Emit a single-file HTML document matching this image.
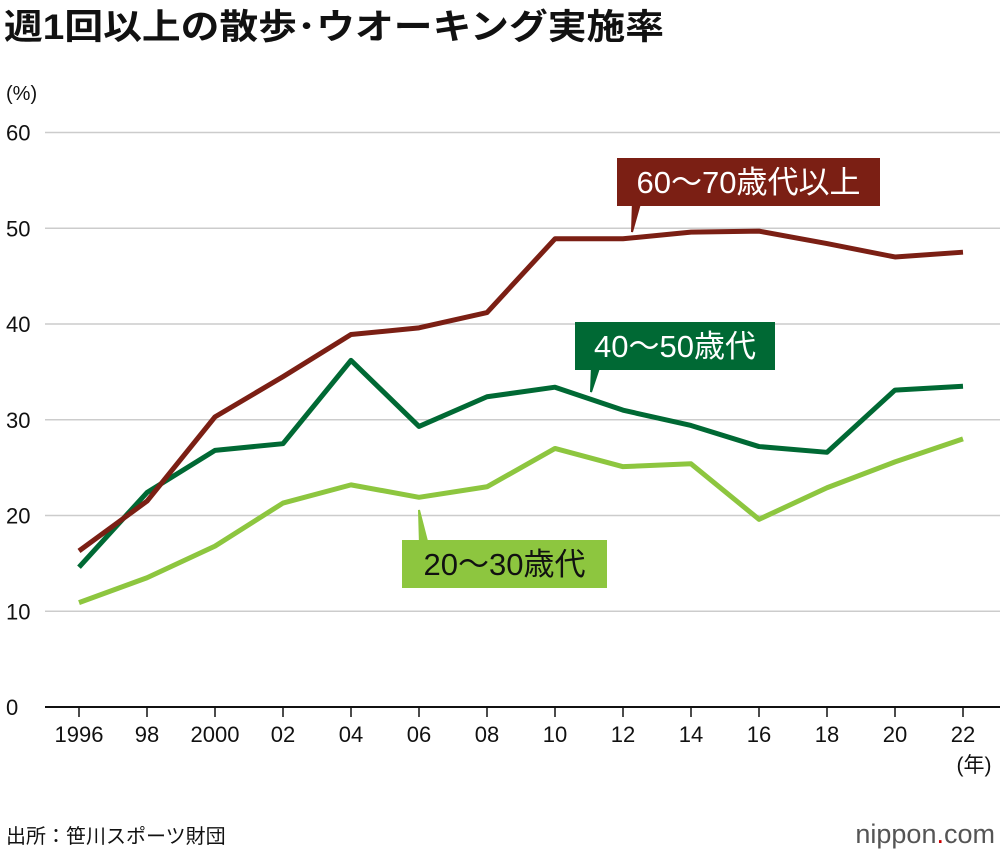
<!DOCTYPE html>
<html><head><meta charset="utf-8"><style>
body{margin:0;background:#fff;width:1000px;height:856px;overflow:hidden;font-family:"Liberation Sans","Noto Sans CJK JP",sans-serif}
</style></head><body>
<svg id="c" width="1000" height="856" style="font-family:'Liberation Sans','Noto Sans CJK JP',sans-serif">
<text x="4" y="39" font-size="35" font-weight="bold" fill="#111" textLength="660" lengthAdjust="spacingAndGlyphs">週1回以上の散歩･ウオーキング実施率</text>
<text x="6" y="100" font-size="20" fill="#111">(%)</text>
<g id="grid"></g><g id="lines"></g><g id="labels"></g>
<text x="974" y="772" font-size="21" fill="#111" text-anchor="middle">(年)</text>
<text x="6" y="843" font-size="20" fill="#111">出所：笹川スポーツ財団</text>
<text x="995" y="843" font-size="27" fill="#555" text-anchor="end">nippon<tspan fill="#c00">.</tspan>com</text>
</svg>
<script>
const years=["1996","98","2000","02","04","06","08","10","12","14","16","18","20","22"];
const yTicks=[0,10,20,30,40,50,60];
const s6070=[16.3,21.5,30.3,34.5,38.9,39.6,41.2,48.9,48.9,49.6,49.7,48.4,47.0,47.5];
const s4050=[14.6,22.4,26.8,27.5,36.2,29.3,32.4,33.4,31.0,29.4,27.2,26.6,33.1,33.5];
const s2030=[10.9,13.5,16.8,21.3,23.2,21.9,23.0,27.0,25.1,25.4,19.6,22.9,25.6,28.0];
const NS="http://www.w3.org/2000/svg";
const X=i=>79+i*68, Y=v=>707-v*9.575;
function mk(t,a,p){const e=document.createElementNS(NS,t);for(const k in a)e.setAttribute(k,a[k]);p.appendChild(e);return e;}
const g=document.getElementById('grid');
yTicks.forEach(v=>{
 const l=mk('line',{x1:45,x2:1000,y1:Y(v),y2:Y(v),stroke:v?'#ccc':'#111','stroke-width':v?1.5:2},g);
 
 
 const t=mk('text',{x:6,y:Y(v)+8,'font-size':22,fill:'#111'},g);t.textContent=v;
 
 
});
years.forEach((y,i)=>{
 const l=mk('line',{x1:X(i),x2:X(i),y1:707,y2:717,stroke:'#111','stroke-width':1.5},g);
 
 
 const t=mk('text',{x:X(i),y:742,'font-size':22,fill:'#111','text-anchor':'middle'},g);t.textContent=y;
 
 
});
const L=document.getElementById('lines');
[[s2030,'#8dc63f','line-20-30s'],[s4050,'#006934','line-40-50s'],[s6070,'#7b1f14','line-60-70s']].forEach(([d,c,n])=>{
 const p=mk('polyline',{points:d.map((v,i)=>X(i)+','+Y(v)).join(' '),fill:'none',stroke:c,'stroke-width':5,'stroke-linejoin':'round'},L);
 
 
});
const B=document.getElementById('labels');
function label(x,y,w,h,c,txt,px,py,tx,ty,name){
 mk('path',{d:`M${px-4},${py} L${px+4},${py} L${tx},${ty} Z`,fill:c,stroke:c,'stroke-width':2},B);
 const r=mk('rect',{x,y,width:w,height:h,fill:c},B);
 
 
 const t=mk('text',{x:x+w/2,y:y+h/2+11,'font-size':31,fill:c=='#8dc63f'?'#111':'#fff','text-anchor':'middle'},B);t.textContent=txt;
 
 
}
label(617,158,263,48,'#7b1f14','60〜70歳代以上',637,200,632,232,'legend-60-70s');
label(575,322,200,48,'#006934','40〜50歳代',596,365,591,392,'legend-40-50s');
label(402,540,205,48,'#8dc63f','20〜30歳代',424,545,419,510,'legend-20-30s');
</script>
</body></html>
